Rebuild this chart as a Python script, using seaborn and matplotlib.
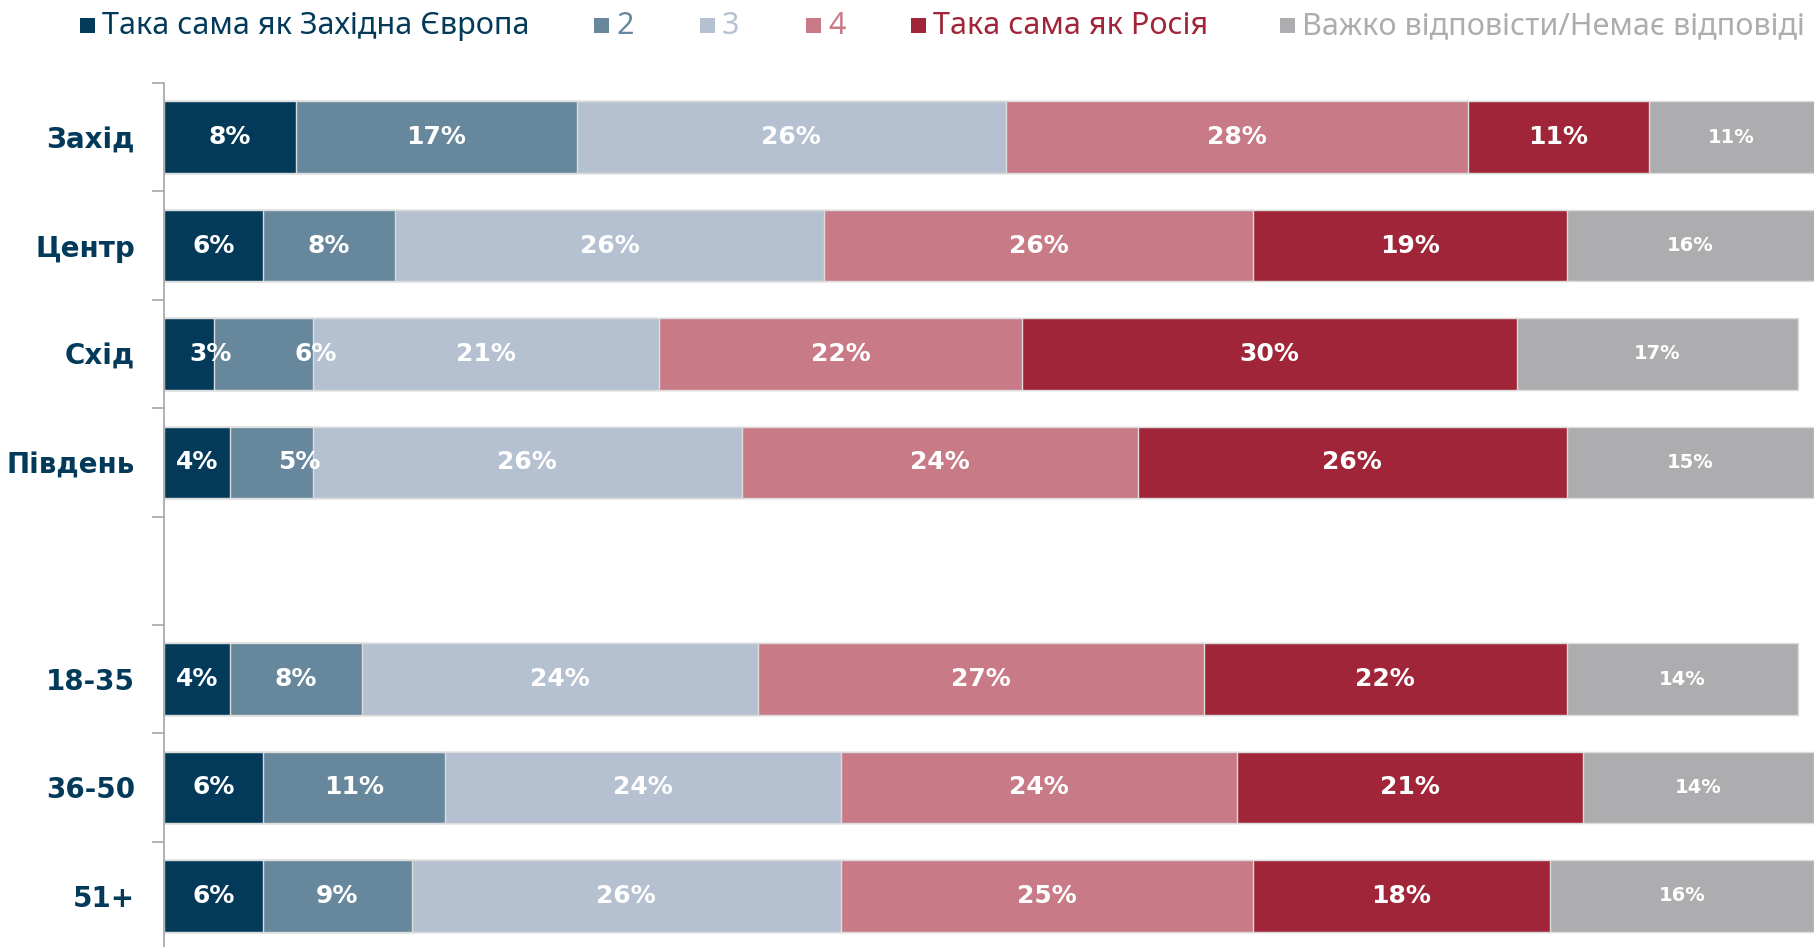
import matplotlib
matplotlib.use("Agg")
import matplotlib.pyplot as plt
from matplotlib.patches import Rectangle
from matplotlib.ticker import FixedLocator
import numpy as np
import pandas as pd
import seaborn as sns

# Survey groups (blank slot separates regions from age groups)
groups = ["Захід", "Центр", "Схід", "Південь", "18-35", "36-50", "51+"]
row_order = ["Захід", "Центр", "Схід", "Південь", " ", "18-35", "36-50", "51+"]

answers = ["Така сама як Західна Європа", "2", "3", "4",
           "Така сама як Росія", "Важко відповісти/Немає відповіді"]

west_europe = [8, 6, 3, 4, 4, 6, 6]
level_2 = [17, 8, 6, 5, 8, 11, 9]
level_3 = [26, 26, 21, 26, 24, 24, 26]
level_4 = [28, 26, 22, 24, 27, 24, 25]
russia = [11, 19, 30, 26, 22, 21, 18]
no_answer = [11, 16, 17, 15, 14, 14, 16]

colors = ["#033A5A", "#67889C", "#B5C1D1", "#C87B86", "#A12538", "#ADADAF"]

# Small nudges (in % units) for a few crowded labels
label_nudge = {("Схід", 0): 1.3, ("Схід", 1): 3.2, ("Південь", 1): 1.7}

series = [west_europe, level_2, level_3, level_4, russia, no_answer]
df = pd.DataFrame({"group": groups})
for name, vals in zip(answers, series):
    df[name] = vals
cum = df[answers].cumsum(axis=1)

sns.set_theme(style="white")
plt.rcParams["font.family"] = ["DejaVu Sans"]

W, H = 1814, 947
fig = plt.figure(figsize=(W / 100, H / 100), dpi=100)
ax = fig.add_axes([164 / W, -3 / H, 1650 / W, 867 / H])

# Stacked bars: draw cumulative totals from the widest down
for i in range(len(answers) - 1, -1, -1):
    sns.barplot(data=pd.DataFrame({"group": groups, "x": cum[answers[i]]}),
                x="x", y="group", order=row_order, orient="h",
                color=colors[i], width=0.66, edgecolor="#DCDCDC",
                linewidth=1.0, errorbar=None, saturation=1, ax=ax)

ax.set_xlim(0, 100)
ax.set_ylim(7.5, -0.5)

# Value labels
for r, g in enumerate(groups):
    y = row_order.index(g)
    start = 0
    for i, name in enumerate(answers):
        v = df.loc[r, name]
        end = start + v
        xc = (start + min(end, 100)) / 2 + label_nudge.get((g, i), 0)
        size = 14 if i == len(answers) - 1 else 18
        ax.text(xc, y, f"{v}%", ha="center", va="center", color="white",
                fontsize=size, fontweight="bold")
        start = end

# Axes styling
ax.set_xlabel("")
ax.set_ylabel("")
ax.set_xticks([])
for s in ["top", "right", "bottom"]:
    ax.spines[s].set_visible(False)
ax.spines["left"].set_color("#A6A6A6")
ax.spines["left"].set_linewidth(1.2)
ax.yaxis.set_minor_locator(FixedLocator(np.arange(-0.5, 8.0, 1.0)))
ax.tick_params(axis="y", which="minor", length=9, width=1.2, color="#A6A6A6",
               direction="out", left=True)
ax.tick_params(axis="y", which="major", length=0, pad=21)
for lbl in ax.get_yticklabels():
    lbl.set_fontsize(20)
    lbl.set_fontweight("bold")
    lbl.set_color("#033A5A")

# Legend across the top
legend_x = [80, 594, 700, 806, 911, 1280]
for x, name, c in zip(legend_x, answers, colors):
    fig.add_artist(Rectangle((x / W, 1 - 33 / H), 15 / W, 15 / H,
                             transform=fig.transFigure, color=c, lw=0))
    fig.text((x + 22) / W, 1 - 26 / H, name, ha="left", va="center",
             color=c, fontsize=22, family=["Noto Sans", "DejaVu Sans"])

fig.savefig("out.png", dpi=100, facecolor="white")
